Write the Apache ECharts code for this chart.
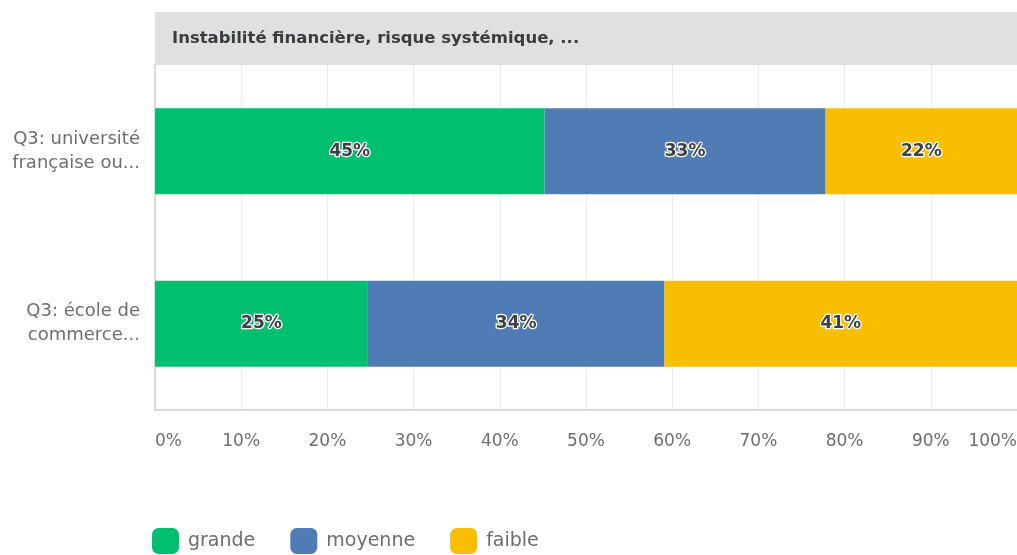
<!DOCTYPE html>
<html>
<head>
<meta charset="utf-8">
<script src="https://cdn.jsdelivr.net/npm/echarts@6/dist/echarts.min.js"></script>
<style>
  html, body { margin: 0; padding: 0; background: #fff; }
  #main { width: 1017px; height: 555px; }
</style>
</head>
<body>
<div id="main"></div>
<script>
var titre = 'Instabilité financière, risque systémique, ...';
var categories = ['Q3: université\nfrançaise ou...', 'Q3: école de\ncommerce...'];
var grande = [45.2, 24.7];
var moyenne = [32.6, 34.4];
var faible = [22.2, 40.9];
var couleurs = ['#00bf6f', '#507cb6', '#f9be00'];
var police = 'DejaVu Sans';

var chart = echarts.init(document.getElementById('main'));

function serie(nom, valeurs, couleur) {
  return {
    name: nom,
    type: 'bar',
    stack: 'total',
    barWidth: 86,
    data: valeurs,
    itemStyle: { color: couleur },
    label: {
      show: true,
      position: 'inside',
      formatter: function (p) { return Math.round(p.value) + '%'; },
      color: '#3d4044',
      fontSize: 17,
      fontWeight: 'bold',
      fontFamily: police,
      textBorderColor: '#ffffff',
      textBorderWidth: 2.5
    }
  };
}

chart.setOption({
  textStyle: { fontFamily: police },
  graphic: [{
    type: 'rect',
    left: 155, top: 12,
    shape: { width: 862, height: 53 },
    style: { fill: '#e0e0e0' },
    z: -1
  }],
  title: {
    text: titre,
    left: 167, top: 25,
    textStyle: { fontSize: 16.5, fontWeight: 'bold', color: '#3a3d40', fontFamily: police }
  },
  legend: {
    left: 152, top: 528,
    padding: 0,
    itemWidth: 27, itemHeight: 26,
    itemGap: 35,
    icon: 'roundRect',
    textStyle: { fontSize: 19, color: '#6b6e72', fontFamily: police, padding: [5, 0, 0, 4] },
    data: ['grande', 'moyenne', 'faible']
  },
  grid: { left: 155, right: 0, top: 65, bottom: 145, outerBoundsMode: 'none' },
  xAxis: {
    type: 'value',
    min: 0, max: 100, interval: 10,
    axisLine: { show: true, lineStyle: { color: '#d0d0d0', width: 1.5 } },
    axisTick: { show: false },
    splitLine: { show: true, lineStyle: { color: '#ececec', width: 1 } },
    axisLabel: {
      formatter: '{value}%',
      color: '#6b6e72',
      fontSize: 17,
      fontFamily: police,
      margin: 23,
      alignMinLabel: 'left',
      alignMaxLabel: 'right'
    }
  },
  yAxis: {
    type: 'category',
    inverse: true,
    data: categories,
    axisLine: { show: true, lineStyle: { color: '#d0d0d0', width: 1.5 } },
    axisTick: { show: false },
    axisLabel: {
      color: '#6b6e72',
      fontSize: 18,
      fontFamily: police,
      lineHeight: 24,
      margin: 15,
      align: 'right'
    }
  },
  series: [
    serie('grande', grande, couleurs[0]),
    serie('moyenne', moyenne, couleurs[1]),
    serie('faible', faible, couleurs[2])
  ]
});
</script>
</body>
</html>
